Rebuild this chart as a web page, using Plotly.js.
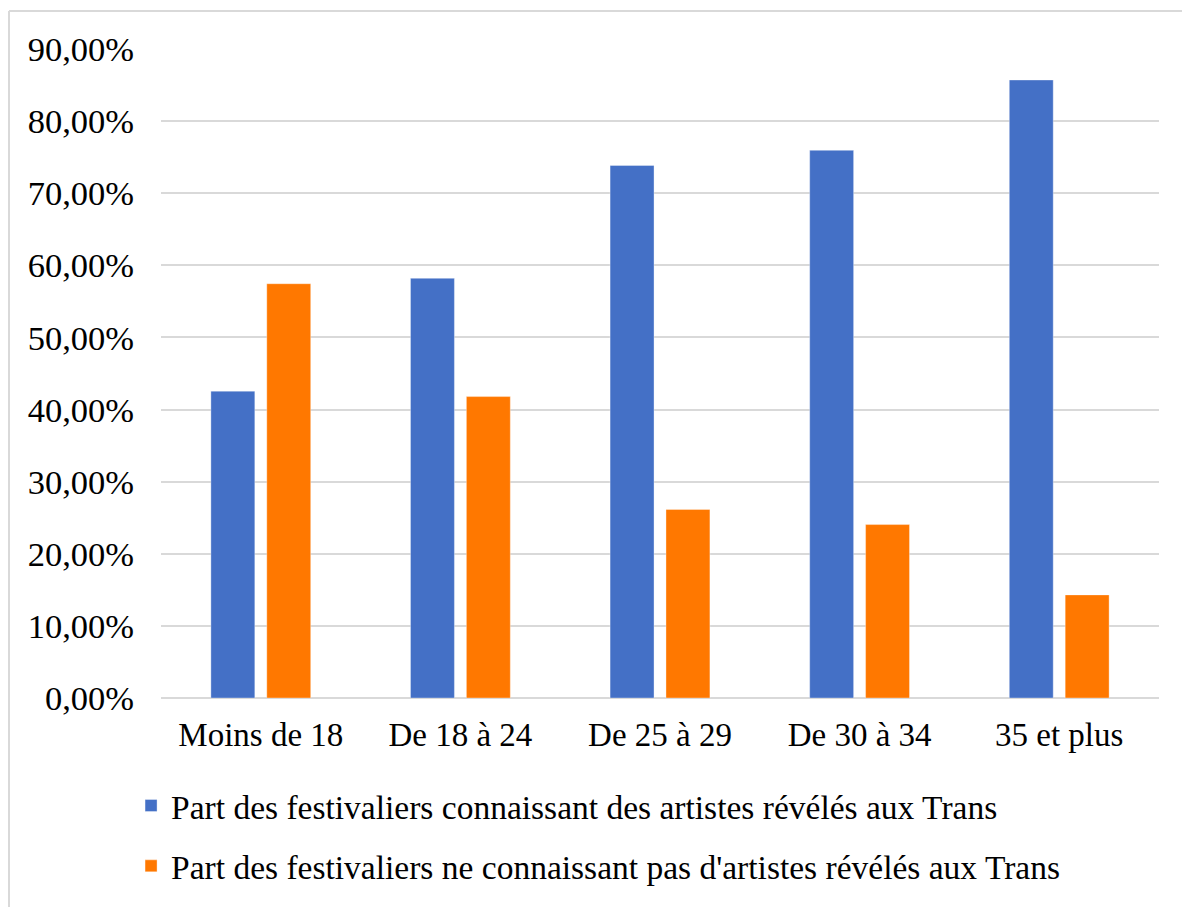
<!DOCTYPE html>
<html>
<head>
<meta charset="utf-8">
<script src="https://cdn.plot.ly/plotly-3.0.1.min.js"></script>
<style>html,body{margin:0;padding:0;background:#fff;}#chart{width:1182px;height:907px;}</style>
</head>
<body>
<div id="chart"></div>
<script>
var categories = ["Moins de 18", "De 18 à 24", "De 25 à 29", "De 30 à 34", "35 et plus"];
var connaissant = [42.55, 58.2, 73.85, 75.95, 85.7];
var neConnaissantPas = [57.45, 41.8, 26.15, 24.05, 14.3];
var seriesNames = [
  "Part des festivaliers connaissant des artistes révélés aux Trans",
  "Part des festivaliers ne connaissant pas d'artistes révélés aux Trans"
];
var yTickVals = [0, 10, 20, 30, 40, 50, 60, 70, 80, 90];
var yTickText = yTickVals.map(function (v) { return v.toFixed(2).replace('.', ',') + '%'; });

var fontFam = '"Liberation Serif", "Times New Roman", serif';

var traces = [
  {type: 'bar', x: categories, y: connaissant, name: seriesNames[0],
   marker: {color: '#4470C6', line: {color: 'rgba(255,255,255,0.35)', width: 1}},
   legend: 'legend', hoverinfo: 'skip'},
  {type: 'bar', x: categories, y: neConnaissantPas, name: seriesNames[1],
   marker: {color: '#FF7800', line: {color: 'rgba(255,255,255,0.35)', width: 1}},
   legend: 'legend2', hoverinfo: 'skip'}
];

var legendCommon = {
  orientation: 'v', xref: 'paper', yref: 'paper', xanchor: 'left', yanchor: 'middle',
  font: {family: fontFam, size: 33.5, color: '#000'}, bgcolor: 'rgba(0,0,0,0)', borderwidth: 0
};

var layout = {
  width: 1182, height: 907,
  margin: {l: 161, r: 23, t: 49, b: 207, pad: 0},
  paper_bgcolor: '#fff', plot_bgcolor: '#fff',
  barmode: 'group', bargap: 0.44, bargroupgap: 0.214,
  font: {family: fontFam, color: '#000'},
  xaxis: {
    type: 'category', showgrid: false, showline: false, zeroline: false, ticks: '',
    tickfont: {family: fontFam, size: 33, color: '#000'}, ticklabelstandoff: 14
  },
  yaxis: {
    range: [0, 90], tickmode: 'array', tickvals: yTickVals, ticktext: yTickText,
    showgrid: true, gridcolor: '#d9d9d9', gridwidth: 2,
    zeroline: true, zerolinecolor: '#d9d9d9', zerolinewidth: 2,
    showline: false, ticks: '',
    tickfont: {family: fontFam, size: 34.5, color: '#000'}, ticklabelstandoff: 26
  },
  showlegend: true,
  legend: Object.assign({}, legendCommon, {x: -0.03, y: -0.166}),
  legend2: Object.assign({}, legendCommon, {x: -0.03, y: -0.259}),
  shapes: [
    {type: 'line', xref: 'paper', yref: 'paper', x0: -0.1523, x1: 1.03, y0: 1.0584, y1: 1.0584,
     line: {color: '#d9d9d9', width: 2}},
    {type: 'line', xref: 'paper', yref: 'paper', x0: -0.1523, x1: -0.1523, y0: 1.0584, y1: -0.33,
     line: {color: '#d9d9d9', width: 2}}
  ]
};

Plotly.newPlot('chart', traces, layout, {displayModeBar: false, staticPlot: true});
</script>
</body>
</html>
